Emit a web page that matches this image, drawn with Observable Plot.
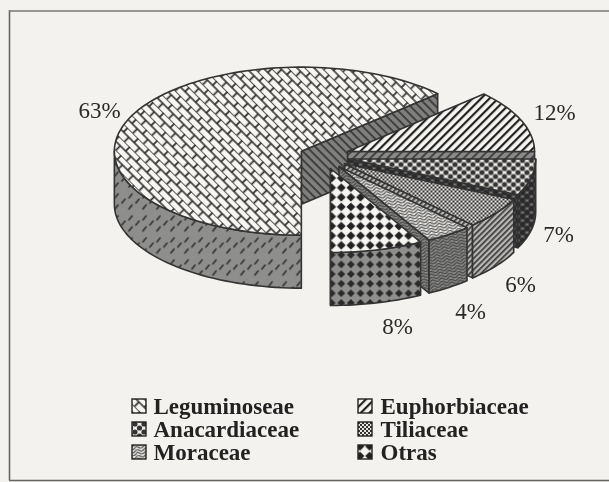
<!DOCTYPE html>
<html>
<head>
<meta charset="utf-8">
<script src="https://cdn.jsdelivr.net/npm/d3@7"></script>
<script src="https://cdn.jsdelivr.net/npm/@observablehq/plot@0.6"></script>
<style>
html,body{margin:0;padding:0;background:#f4f2ee;}
svg{display:block;background:#f4f2ee;filter:blur(0.45px);}
</style>
</head>
<body>
<div id="chart"></div>
<script>
// Data
const categories = ["Leguminoseae","Euphorbiaceae","Anacardiaceae","Tiliaceae","Moraceae","Otras"];
const shares = [63,12,7,6,4,8];
const percentLabels = ["63%","12%","7%","6%","4%","8%"];

// Layout
const W = 609, H = 482;
const cx = 323.8, cy = 155.7, rx = 187, ry = 84, depth = 53;
const explodeX = 25, explodeY = 12.7, startDeg = 180;
const ink = "#333";
const labelAt = [[99,110],[554,112],[558,234],[520,284],[470,311],[397,326]];
const legendCols = [[132,153],[358,380]];
const legendRows = [406,429,452];
const legendOrder = [[0,0],[1,0],[0,1],[1,1],[0,2],[1,2]];
const topFill = ["leg","eu","ana","til","mor","otr"].map(d => `url(#${d})`);
const wallFill = ["legW","euW","anaW","tilW","morW","otrW"].map(d => `url(#${d})`);

// Geometry derived from the shares
const rad = d => d * Math.PI / 180;
let acc = startDeg;
const slices = shares.map((s,i) => {
  let a0 = acc, a1 = acc + s * 3.6; acc = a1;
  if (a0 >= 360) { a0 -= 360; a1 -= 360; }
  const mid = rad((a0 + a1) / 2);
  return {i, a0, a1, ox: cx + explodeX * Math.sin(mid), oy: cy - explodeY * Math.cos(mid)};
});
const pt = (s,a,dz=0) => ({x: s.ox + rx*Math.sin(rad(a)), y: s.oy - ry*Math.cos(rad(a)) + dz});
const arc = (s,a0,a1,dz=0) => {
  const n = Math.max(2, Math.ceil(Math.abs(a1-a0)/2));
  return d3.range(n+1).map(k => pt(s, a0 + (a1-a0)*k/n, dz));
};
const topFace = s => [{x:s.ox,y:s.oy}, ...arc(s,s.a0,s.a1)];
const cutFace = (s,a) => [{x:s.ox,y:s.oy}, pt(s,a), pt(s,a,depth), {x:s.ox,y:s.oy+depth}];
// the outer wall shows only on the front half of the ellipse (90..270 degrees)
const outerWall = s => {
  const a0 = Math.max(s.a0, 90), a1 = Math.min(s.a1, 270);
  if (a1 <= a0) return null;
  return [...arc(s,a0,a1), ...arc(s,a1,a0,depth)];
};
const face = (points, fill) => Plot.line(points, {x:"x", y:"y", curve:"linear-closed", fill, stroke:ink, strokeWidth:1.6, strokeLinejoin:"round"});

const sliceMarks = [];
slices.forEach(s => {
  sliceMarks.push(face(cutFace(s, s.a1), s.i === 0 ? "url(#legB)" : wallFill[s.i]));
  const w = outerWall(s);
  if (w) sliceMarks.push(face(w, wallFill[s.i]));
  sliceMarks.push(face(topFace(s), topFill[s.i]));
});

const labels = percentLabels.map((t,i) => ({t, x:labelAt[i][0], y:labelAt[i][1]}));
const legend = categories.map((name,i) => {
  const [c,r] = legendOrder[i];
  return {name, i, sx:legendCols[c][0], tx:legendCols[c][1], y:legendRows[r]};
});

const chart = Plot.plot({
  width:W, height:H, margin:0,
  x:{domain:[0,W], range:[0,W], axis:null},
  y:{domain:[0,H], range:[0,H], axis:null},
  marks:[
    Plot.ruleX([9], {y1:10, y2:480, stroke:"#666", strokeWidth:1.6}),
    Plot.ruleY([10.5], {x1:9, x2:W, stroke:"#777", strokeWidth:1.4}),
    Plot.ruleY([480], {x1:9, x2:W, stroke:"#666", strokeWidth:1.4}),
    ...sliceMarks,
    Plot.text(labels, {x:"x", y:"y", text:"t", fontFamily:"Liberation Serif", fontSize:23, fill:"#2a2a2a"}),
    ...legend.map(d => Plot.rect([d], {x1:e=>e.sx, x2:e=>e.sx+14, y1:e=>e.y-7, y2:e=>e.y+7, fill:topFill[d.i], stroke:"#222", strokeWidth:1.4})),
    Plot.text(legend, {x:"tx", y:"y", text:"name", textAnchor:"start", fontFamily:"Liberation Serif", fontWeight:"bold", fontSize:23, fill:"#222"})
  ]
});

// Hatch patterns
const dashes = "M2 11 L6 6 M9 5 L13 0 M16 11 L20 6 M23 5 L27 0";
const pats = `
<pattern id="leg" width="15" height="12" patternUnits="userSpaceOnUse" patternTransform="rotate(45)">
  <rect width="15" height="12" fill="#f7f6f3"/>
  <path d="M0 0H15M0 6H15M0 0V6M7.5 6V12M15 0V6" stroke="#2a2a2a" stroke-width="1.7" fill="none"/>
</pattern>
<pattern id="legB" width="6" height="6" patternUnits="userSpaceOnUse" patternTransform="rotate(45)">
  <rect width="6" height="6" fill="#7f7f7d"/>
  <rect width="6" height="1.8" fill="#3a3a3a"/>
</pattern>
<pattern id="legW" width="28" height="22" patternUnits="userSpaceOnUse">
  <rect width="28" height="22" fill="#8e8e8c"/>
  <path d="${dashes}" stroke="#222" stroke-width="1.3" fill="none"/>
  <path d="M2 22 L6 17 M16 22 L20 17" stroke="#222" stroke-width="1.3" fill="none"/>
</pattern>
<pattern id="eu" width="6" height="6" patternUnits="userSpaceOnUse" patternTransform="rotate(-45)">
  <rect width="6" height="6" fill="#f6f5f2"/>
  <rect width="6" height="2.2" fill="#222"/>
</pattern>
<pattern id="euW" width="6" height="6" patternUnits="userSpaceOnUse" patternTransform="rotate(-45)">
  <rect width="6" height="6" fill="#8a8a88"/>
  <rect width="6" height="2" fill="#444"/>
</pattern>
<pattern id="ana" width="9" height="8" patternUnits="userSpaceOnUse">
  <rect width="9" height="8" fill="#f0eeea"/>
  <circle cx="0" cy="0" r="2.6" fill="#333"/><circle cx="9" cy="0" r="2.6" fill="#333"/>
  <circle cx="0" cy="8" r="2.6" fill="#333"/><circle cx="9" cy="8" r="2.6" fill="#333"/>
  <circle cx="4.5" cy="4" r="2.6" fill="#333"/>
</pattern>
<pattern id="anaW" width="9" height="8" patternUnits="userSpaceOnUse">
  <rect width="9" height="8" fill="#777"/>
  <circle cx="0" cy="0" r="3" fill="#2a2a2a"/><circle cx="9" cy="0" r="3" fill="#2a2a2a"/>
  <circle cx="0" cy="8" r="3" fill="#2a2a2a"/><circle cx="9" cy="8" r="3" fill="#2a2a2a"/>
  <circle cx="4.5" cy="4" r="3" fill="#2a2a2a"/>
</pattern>
<pattern id="til" width="4" height="4" patternUnits="userSpaceOnUse">
  <rect width="4" height="4" fill="#e8e6e2"/>
  <rect width="2" height="2" fill="#333"/><rect x="2" y="2" width="2" height="2" fill="#333"/>
</pattern>
<pattern id="tilW" width="4" height="4" patternUnits="userSpaceOnUse" patternTransform="rotate(-45)">
  <rect width="4" height="4" fill="#b8b7b4"/>
  <rect width="4" height="1.7" fill="#3a3a3a"/>
</pattern>
<pattern id="mor" width="9" height="6" patternUnits="userSpaceOnUse" patternTransform="rotate(-12)">
  <rect width="9" height="6" fill="#ecebe7"/>
  <path d="M0 3 L4.5 0 L9 3 M0 6 L4.5 3 L9 6" stroke="#555" stroke-width="1.3" fill="none"/>
</pattern>
<pattern id="morW" width="9" height="6" patternUnits="userSpaceOnUse" patternTransform="rotate(-12)">
  <rect width="9" height="6" fill="#8c8c8a"/>
  <path d="M0 3 L4.5 0 L9 3 M0 6 L4.5 3 L9 6" stroke="#444" stroke-width="1.3" fill="none"/>
</pattern>
<pattern id="otr" width="9.6" height="9.6" patternUnits="userSpaceOnUse">
  <rect width="9.6" height="9.6" fill="#f6f5f2"/>
  <path d="M4.8 0.4 L9.2 4.8 L4.8 9.2 L0.4 4.8Z" fill="#222"/>
</pattern>
<pattern id="otrW" width="9.6" height="9.6" patternUnits="userSpaceOnUse">
  <rect width="9.6" height="9.6" fill="#8f8f8d"/>
  <path d="M4.8 0.9 L8.7 4.8 L4.8 8.7 L0.9 4.8Z" fill="#2a2a2a"/>
</pattern>`;
const defs = document.createElementNS("http://www.w3.org/2000/svg","defs");
defs.innerHTML = pats;
chart.insertBefore(defs, chart.firstChild);
document.getElementById("chart").appendChild(chart);
</script>
</body>
</html>
